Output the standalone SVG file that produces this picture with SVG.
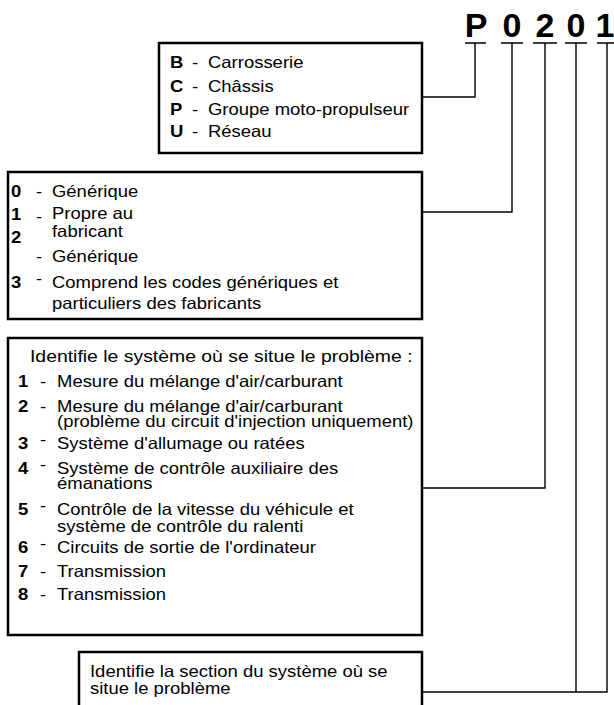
<svg xmlns="http://www.w3.org/2000/svg" width="614" height="705" viewBox="0 0 614 705">
<style>
.box{fill:#fff;stroke:#000;stroke-width:2.5}
.t{font-family:"Liberation Sans",Arial,sans-serif;font-size:16.5px;fill:#000;transform-box:fill-box;transform-origin:0 50%;transform:scaleX(1.12)}
.w{transform:scaleX(1.175)}
.b{font-weight:bold}
.code{font-family:"Liberation Sans",Arial,sans-serif;font-size:34px;font-weight:bold;text-anchor:middle}
.con{fill:none;stroke:#000;stroke-width:1.4}
</style>
<rect width="614" height="705" fill="#fff"/>
<g id="code">
<text class="code" x="476" y="37">P</text>
<text class="code" x="512" y="37">0</text>
<text class="code" x="545" y="37">2</text>
<text class="code" x="576" y="37">0</text>
<text class="code" x="605" y="37">1</text>
<path class="con" d="M465,43H486M501,43H523M533,43H557M565,43H587M597,43H614"/>
</g>
<g id="connectors">
<path class="con" d="M422,97H475V43"/>
<path class="con" d="M422,212H512V43"/>
<path class="con" d="M422,488H545V43"/>
<path class="con" d="M422,692H607V43"/>
<path class="con" d="M576,692V43"/>
</g>
<g id="box1">
<rect class="box" x="159" y="43" width="263" height="110"/>
<text class="t b" x="170" y="68">B</text><text class="t" x="192" y="68">-</text><text class="t" x="208" y="68">Carrosserie</text>
<text class="t b" x="170" y="92">C</text><text class="t" x="192" y="92">-</text><text class="t" x="208" y="92">Châssis</text>
<text class="t b" x="170" y="115">P</text><text class="t" x="192" y="115">-</text><text class="t" x="208" y="115">Groupe moto-propulseur</text>
<text class="t b" x="170" y="137">U</text><text class="t" x="192" y="137">-</text><text class="t" x="208" y="137">Réseau</text>
</g>
<g id="box2">
<rect class="box" x="8" y="172" width="414" height="147"/>
<text class="t b" x="11" y="197">0</text><text class="t" x="36" y="197">-</text><text class="t" x="52" y="197">Générique</text>
<text class="t b" x="11" y="220">1</text><text class="t" x="36" y="222">-</text><text class="t" x="52" y="219">Propre au</text>
<text class="t b" x="11" y="243">2</text><text class="t" x="52" y="237">fabricant</text>
<text class="t" x="36" y="262">-</text><text class="t" x="52" y="262">Générique</text>
<text class="t b" x="11" y="288">3</text><text class="t" x="36" y="284">-</text><text class="t" x="52" y="288">Comprend les codes génériques et</text>
<text class="t" x="52" y="309">particuliers des fabricants</text>
</g>
<g id="box3">
<rect class="box" x="8" y="338" width="414" height="297"/>
<text class="t w" x="30" y="362">Identifie le système où se situe le problème :</text>
<text class="t b" x="18" y="387">1</text><text class="t" x="40" y="387">-</text><text class="t" x="57" y="387">Mesure du mélange d'air/carburant</text>
<text class="t b" x="18" y="412">2</text><text class="t" x="40" y="412">-</text><text class="t" x="57" y="412">Mesure du mélange d'air/carburant</text>
<text class="t" x="57" y="427">(problème du circuit d'injection uniquement)</text>
<text class="t b" x="18" y="449">3</text><text class="t" x="40" y="445">-</text><text class="t" x="57" y="449">Système d'allumage ou ratées</text>
<text class="t b" x="18" y="474">4</text><text class="t" x="40" y="470">-</text><text class="t" x="57" y="474">Système de contrôle auxiliaire des</text>
<text class="t" x="57" y="489">émanations</text>
<text class="t b" x="18" y="515">5</text><text class="t" x="40" y="511">-</text><text class="t" x="57" y="515">Contrôle de la vitesse du véhicule et</text>
<text class="t" x="57" y="532">système de contrôle du ralenti</text>
<text class="t b" x="18" y="553">6</text><text class="t" x="40" y="549">-</text><text class="t" x="57" y="553">Circuits de sortie de l'ordinateur</text>
<text class="t b" x="18" y="577">7</text><text class="t" x="40" y="577">-</text><text class="t" x="57" y="577">Transmission</text>
<text class="t b" x="18" y="600">8</text><text class="t" x="40" y="600">-</text><text class="t" x="57" y="600">Transmission</text>
</g>
<g id="box4">
<rect class="box" x="79" y="652" width="343" height="70"/>
<text class="t" x="90" y="677">Identifie la section du système où se</text>
<text class="t" x="90" y="694">situe le problème</text>
</g>
</svg>
